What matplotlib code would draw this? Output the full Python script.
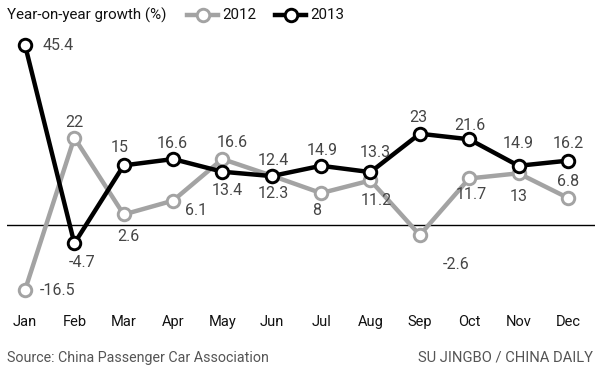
import matplotlib
matplotlib.use('Agg')
import matplotlib.pyplot as plt
from matplotlib.lines import Line2D

months = ['Jan', 'Feb', 'Mar', 'Apr', 'May', 'Jun', 'Jul', 'Aug', 'Sep', 'Oct', 'Nov', 'Dec']
growth_2012 = [-16.5, 22, 2.6, 6.1, 16.6, 12.4, 8, 11.2, -2.6, 11.7, 13, 6.8]
growth_2013 = [45.4, -4.7, 15, 16.6, 13.4, 12.3, 14.9, 13.3, 23, 21.6, 14.9, 16.2]

# label offsets in pixels (dx, dy) for each point
off_2012 = [(33, 0), (0, 15), (5, -22), (23, -10), (10, 17), (2, 15),
            (-4, -17), (6, -20), (36, -29), (2, -16), (0, -23), (0, 16)]
off_2013 = [(33, 0), (8, -19), (-4, 18), (-1, 16), (5, -19), (2, -17),
            (1, 15), (5, 20), (-1, 16), (1, 14), (0, 22), (0, 17)]

GREY = '#a3a3a3'
TXT = '#454545'
plt.rcParams['font.family'] = ['Roboto', 'DejaVu Sans']

fig = plt.figure(figsize=(6, 3.75), dpi=100)
ax = fig.add_axes([7 / 600, 0.2, 588 / 600, 0.72])
ax.set_xlim(-0.365, 11.55)
ax.set_ylim(-19.0, 49.2)

x = list(range(len(months)))
ax.axhline(0, color='black', lw=1.0, zorder=1)
ax.plot(x, growth_2012, color=GREY, lw=3.2, marker='o', ms=9, mfc='white',
        mec=GREY, mew=2.1, zorder=2)
ax.plot(x, growth_2013, color='black', lw=3.2, marker='o', ms=9, mfc='white',
        mec='black', mew=2.1, zorder=3)

for xi, v, o in zip(x, growth_2012, off_2012):
    ax.annotate(f'{v:g}', (xi, v), xytext=o, textcoords='offset pixels',
                ha='center', va='center', fontsize=11.5, color=TXT)
for xi, v, o in zip(x, growth_2013, off_2013):
    ax.annotate(f'{v:g}', (xi, v), xytext=o, textcoords='offset pixels',
                ha='center', va='center', fontsize=11.5, color=TXT)

ax.set_xticks(x)
ax.set_xticklabels(months, fontsize=10.5, color='#111111')
ax.tick_params(axis='x', length=0, pad=11)
ax.set_yticks([])
for s in ax.spines.values():
    s.set_visible(False)

fig.text(7 / 600, 1 - 15 / 375, 'Year-on-year growth (%)', fontsize=10.9,
         color='#111111', va='center', ha='left')
for x0, col, lab in [(187, GREY, '2012'), (275, 'black', '2013')]:
    fig.add_artist(Line2D([x0 / 600, (x0 + 31) / 600], [1 - 15 / 375] * 2,
                          color=col, lw=3.2, transform=fig.transFigure))
    fig.add_artist(Line2D([(x0 + 15.5) / 600], [1 - 15 / 375], marker='o', ms=9,
                          mfc='white', mec=col, mew=2.1, transform=fig.transFigure))
    fig.text((x0 + 35) / 600, 1 - 15 / 375, lab, fontsize=10.9, color='#111111',
             va='center', ha='left')

fig.text(7 / 600, 1 - 358 / 375, 'Source: China Passenger Car Association',
         fontsize=10.3, color='#555555', va='center', ha='left')
fig.text(593 / 600, 1 - 358 / 375, 'SU JINGBO / CHINA DAILY',
         fontsize=10.6, color='#555555', va='center', ha='right')

fig.savefig('out.png', dpi=100, facecolor='white')
